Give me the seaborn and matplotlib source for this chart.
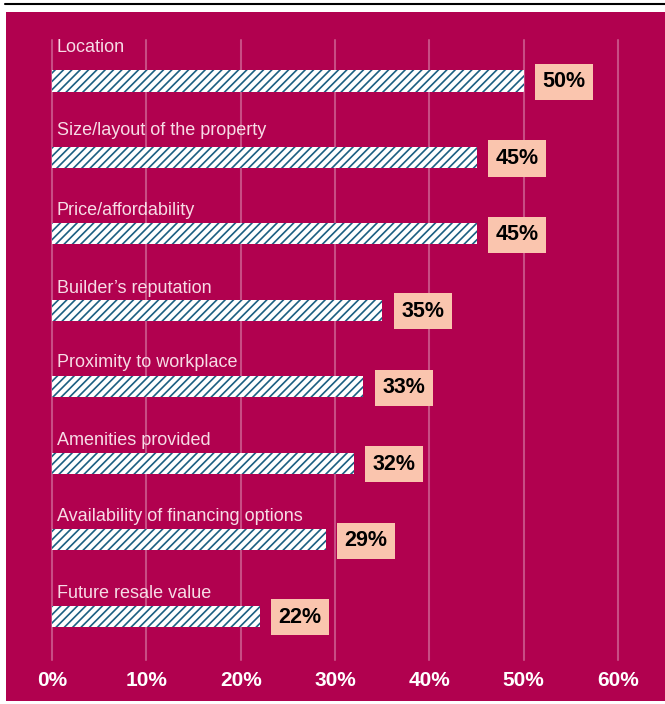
import matplotlib
matplotlib.use("Agg")
import matplotlib.pyplot as plt
from matplotlib.patches import Rectangle
from matplotlib.lines import Line2D
import seaborn as sns
import pandas as pd

categories = [
    "Location",
    "Size/layout of the property",
    "Price/affordability",
    "Builder\u2019s reputation",
    "Proximity to workplace",
    "Amenities provided",
    "Availability of financing options",
    "Future resale value",
]
values = [50, 45, 45, 35, 33, 32, 29, 22]
tick_values = [0, 10, 20, 30, 40, 50, 60]
tick_labels = ["0%", "10%", "20%", "30%", "40%", "50%", "60%"]

PANEL = "#B1014F"
HATCH = "#1B5F82"
BOX = "#FAC5AE"

sns.set_theme(style="white")
plt.rcParams["font.family"] = ["Liberation Sans", "DejaVu Sans"]
plt.rcParams["hatch.linewidth"] = 1.2

W, H = 665, 704
fig = plt.figure(figsize=(W / 100, H / 100), dpi=100, facecolor="white")

# magenta panel and top rule
fig.patches.append(Rectangle((6 / W, 1 - 701 / H), (W - 6) / W, (701 - 12) / H,
                             transform=fig.transFigure, facecolor=PANEL,
                             edgecolor="none", zorder=-10))
fig.lines.append(Line2D([5 / W, 1], [1 - 4 / H, 1 - 4 / H], transform=fig.transFigure,
                        color="black", lw=1.5, zorder=-10))

ax = fig.add_axes([52 / W, 1 - 660 / H, (618 - 52) / W, (660 - 40) / H])
ax.set_facecolor("none")
ax.set_zorder(5)

df = pd.DataFrame({"factor": categories, "share": values})
sns.barplot(data=df, x="share", y="factor", orient="h", width=0.275,
            color="white", edgecolor=HATCH, linewidth=0, hatch="////",
            saturation=1, ax=ax, zorder=3)

ax.set_xlim(0, 60)
ax.set_ylim(7.57, -0.536)
ax.set_xticks(tick_values)
ax.set_xticklabels(tick_labels)
ax.set_yticks([])
ax.set_xlabel("")
ax.set_ylabel("")
for s in ax.spines.values():
    s.set_visible(False)
ax.tick_params(axis="x", length=0, pad=8, labelsize=15, labelcolor="white")
for t in ax.get_xticklabels():
    t.set_fontweight("bold")

for x in tick_values:
    ax.axvline(x, color="white", alpha=0.3, lw=1.5, zorder=1, clip_on=False)

# vertical gap (pixels) between each bar centre and its caption
caption_lift = [33, 27, 23, 22, 24, 23, 23, 23]

for i, (cat, v) in enumerate(zip(categories, values)):
    ax.annotate(cat, (0, i), xytext=(5, caption_lift[i]), textcoords="offset pixels",
                ha="left", va="center", fontsize=13, color="#F7DCE6", zorder=4)
    ax.annotate(f"{v}%", (v, i), xytext=(19, -1), textcoords="offset pixels",
                ha="left", va="center", fontsize=15.5, fontweight="bold",
                color="black", zorder=4,
                bbox=dict(boxstyle="square,pad=0.35", facecolor=BOX, edgecolor="none"))

fig.savefig("out.png", dpi=100, facecolor="white")
